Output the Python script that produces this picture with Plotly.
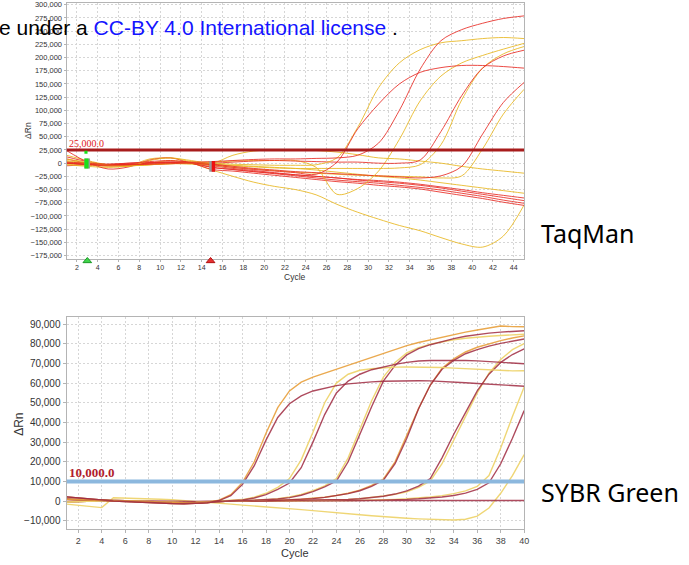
import plotly.graph_objects as go

W, H = 689, 565

# ---------------- TaqMan (top) data, values in thousands of dRn ----------------
TOP_CYCLES = list(range(1, 46, 2))
TOP_THRESHOLD = 25000
TOP_BASELINE_START = 3
TOP_BASELINE_END = 15

top_Ya = [5, 0, -4, -5, -3, -1, 0, 0, -2, -3, -4, -4, -3, 10, 68, 143, 190, 215, 228, 232, 236, 238, 236]
top_Ra = [0, -2, -4, -3, -2, -1, 0, -3, -8, -12, -15, -18, -21, 2, 65, 112, 150, 172, 181, 185, 185, 183, 180]
top_Rb = [2, 0, -2, 0, 3, 5, 2, 3, 5, 7, 8, 8, 9, 10, 15, 38, 100, 178, 232, 253, 265, 274, 279]
top_Yb = [8, 2, -3, -6, 5, 10, 3, 2, 4, 5, 5, 5, -8, -59, -48, -15, 45, 118, 165, 190, 204, 216, 227]
top_Rc = [0, -3, -5, -4, -2, 0, 1, 0, 2, 4, 5, 4, 3, 2, 2, 0, 0, 6, 60, 128, 180, 203, 214]
top_Yc = [-2, -4, -6, -5, -3, -1, 0, -2, -5, -7, -9, -10, -10, -10, -10, -10, -9, -3, 35, 120, 180, 207, 221]
top_Rd = [0, -2, -3, -2, 0, 2, 0, -2, -6, -10, -13, -16, -18, -20, -22, -24, -26, -28, -24, -6, 55, 115, 153]
top_Yd = [3, 0, -3, -5, -3, -1, -2, -4, -8, -11, -14, -17, -19, -21, -23, -24, -25, -26, -28, -24, 27, 93, 140]
top_Ye = [15, 5, -3, -4, 0, 5, 0, -13, -25, -36, -44, -50, -60, -78, -93, -106, -118, -128, -141, -153, -159, -138, -79]
top_Yf = [-3, -6, -8, -5, 8, 10, 5, 0, 15, 23, 25, 25, 24, 21, 16, 10, 8, 4, 0, -6, -11, -15, -19]
top_Yg = [2, -2, -4, -3, -2, 0, 2, -2, -4, -6, -8, -10, -13, -17, -21, -25, -28, -32, -37, -42, -47, -52, -57]
top_Re = [24, 2, -11, -7, 6, 10, 0, -8, -12, -16, -19, -22, -25, -28, -31, -33, -36, -40, -45, -50, -56, -61, -66]
top_Rf = [8, 0, -4, -2, 0, 1, 0, -5, -10, -14, -18, -22, -25, -28, -32, -35, -38, -42, -47, -53, -59, -65, -71]
top_Rg = [-5, -3, -2, 0, 1, 2, 1, -8, -12, -16, -20, -24, -28, -32, -35, -38, -42, -46, -51, -57, -63, -70, -76]
top_Rh = [12, 3, -3, -2, 1, 2, 0, -12, -15, -19, -23, -27, -31, -35, -38, -42, -45, -49, -55, -61, -67, -74, -80]

TOP_SERIES = [
    ("Yg", top_Yg, "yellow"), ("Rf", top_Rf, "red"), ("Ye", top_Ye, "yellow"),
    ("Rg", top_Rg, "red"), ("Yd", top_Yd, "yellow"), ("Rh", top_Rh, "red"),
    ("Yf", top_Yf, "yellow"), ("Re", top_Re, "red"), ("Yc", top_Yc, "yellow"),
    ("Rd", top_Rd, "red"), ("Yb", top_Yb, "yellow"), ("Rc", top_Rc, "red"),
    ("Ya", top_Ya, "yellow"), ("Rb", top_Rb, "red"), ("Ra", top_Ra, "red"),
]
TOP_YTICKS = list(range(-175000, 300001, 25000))
TOP_XTICKS = list(range(2, 45, 2))

# ---------------- SYBR Green (bottom) data, values in thousands of dRn ----------------
BOT_CYCLES = list(range(1, 41))
BOT_THRESHOLD = 10000

base_a = [2.2, 1.6, 1.0, 0.5, 0.1, -0.2, -0.5, -0.8, -1.0, -1.2, -1.3, -1.2, -0.8]
base_b = [1.0, 0.8, 0.6, 0.4, 0.2, 0.0, -0.2, -0.4, -0.6, -0.8, -0.9, -0.8, -0.5]
base_c = [-0.5, -0.3, 0.0, 0.3, 0.4, 0.2, 0.0, -0.3, -0.5, -0.7, -0.8, -0.7, -0.4]

bot_M1 = base_a + [0.3, 2.8, 8.5, 18, 31, 42.5, 49.5, 53.5, 56, 57.5, 58.7, 59.6, 60.2, 60.6, 60.9, 61.1,
                   61.2, 61.2, 61.1, 60.9, 60.6, 60.2, 59.8, 59.4, 59.0, 58.7, 58.4]
bot_Y1 = base_b + [0.5, 3.3, 9.5, 20, 34.5, 47.5, 56, 60.5, 63, 65, 67, 69.2, 71.3, 73.3, 75.3, 77.3,
                   79, 80.6, 82, 83.3, 84.6, 85.9, 87, 88, 89, 88.7, 88.6]
bot_Y2 = base_c + [-0.1, 0.2, 0.8, 2, 4, 7, 11.5, 21, 35, 50, 60, 64.5, 66.5, 67.3, 67.8, 68.1,
                   68.2, 68.2, 68.1, 67.9, 67.6, 67.3, 67, 66.7, 66.4, 66.2, 66.3]
bot_M2 = base_b + [-0.2, 0.1, 0.6, 1.6, 3.3, 6, 9.2, 17, 30, 44, 55, 61, 64.5, 66.8, 68.3, 69.5,
                   70.5, 71.2, 71.5, 71.6, 71.6, 71.5, 71.3, 71, 70.6, 70.2, 69.8]
bot_M3 = base_b + [0, 0.1, 0.2, 0.4, 0.7, 1.1, 1.8, 3, 4.8, 7.2, 10.2, 20, 34, 48, 61, 69,
                   74.3, 77.5, 79.5, 81.2, 82.6, 83.8, 84.7, 85.4, 85.9, 86.3, 86.6]
bot_Y3 = base_c + [0, 0.1, 0.2, 0.4, 0.8, 1.3, 2.1, 3.4, 5.3, 7.8, 11.5, 22, 36.5, 51, 63, 70.5,
                   75.3, 78, 79.8, 81, 82, 82.8, 83.4, 83.8, 84.2, 84.5, 84.8]
bot_M4 = base_a + [0, 0, 0.1, 0.2, 0.3, 0.4, 0.6, 0.9, 1.3, 1.9, 2.7, 3.8, 5.3, 7.5, 10.6, 19,
                   32, 47, 59, 67, 71.5, 74.9, 77, 78.8, 80.2, 81.4, 82.4]
bot_Y4 = base_b + [0, 0.1, 0.1, 0.2, 0.3, 0.5, 0.7, 1.0, 1.4, 2.0, 2.9, 4.0, 5.6, 8, 11.2, 20,
                   33.5, 47, 59, 67.5, 72.3, 75.8, 78.2, 80, 81.6, 82.9, 84]
bot_M5 = base_c + [0, 0, 0, 0.1, 0.1, 0.2, 0.2, 0.3, 0.4, 0.5, 0.6, 0.8, 1.2, 1.7, 2.5, 3.6,
                   5.2, 7.6, 11.5, 22, 34, 45, 56, 64.5, 70.5, 74.5, 77.4]
bot_Y5 = base_a + [0, 0, 0.1, 0.1, 0.2, 0.2, 0.3, 0.3, 0.4, 0.5, 0.7, 0.9, 1.3, 1.8, 2.6, 3.5,
                   4.8, 7, 10.3, 19, 31, 43, 55, 65, 72, 77, 80]
bot_Y6 = base_b + [0, 0, 0, 0, 0, 0.1, 0.1, 0.1, 0.2, 0.2, 0.3, 0.3, 0.4, 0.5, 0.7, 0.9,
                   1.2, 1.6, 2.1, 2.8, 3.8, 5.2, 7.5, 13, 27, 43, 58]
bot_M6 = base_c + [0, 0, 0, 0, 0, 0, 0.1, 0.1, 0.1, 0.2, 0.2, 0.3, 0.3, 0.4, 0.5, 0.7,
                   0.9, 1.2, 1.6, 2.1, 2.9, 4.1, 6, 9.3, 19, 32, 46]
bot_NTC = [0.8, 0.6, 0.5, 0.4, 0.3, 0.2, 0.1, 0.0, -0.1, -0.2, -0.2, -0.1, 0.0, 0.1, 0.2, 0.2,
           0.3, 0.3, 0.3, 0.3, 0.3, 0.3, 0.3, 0.3, 0.3, 0.3, 0.3, 0.3, 0.3, 0.3, 0.3, 0.3,
           0.3, 0.3, 0.3, 0.3, 0.3, 0.3, 0.3, 0.3]
bot_YL = [-1.5, -2.1, -2.7, -3.3, 1.7, 1.6, 1.5, 1.3, 1.0, 0.7, 0.3, 0.0, -0.4, -0.9, -1.5, -2.0,
          -2.4, -2.9, -3.3, -3.8, -4.3, -4.8, -5.4, -5.9, -6.4, -6.9, -7.4, -7.9, -8.3, -8.7,
          -9.0, -9.3, -9.5, -9.6, -9.2, -7.6, -3.5, 4.0, 13.0, 23.6]

BOT_SERIES = [
    ("YL", bot_YL, "yellow"), ("NTC", bot_NTC, "maroon"),
    ("Y6", bot_Y6, "yellow"), ("M6", bot_M6, "maroon"),
    ("Y5", bot_Y5, "yellow"), ("M5", bot_M5, "maroon"),
    ("Y4", bot_Y4, "orange"), ("M4", bot_M4, "maroon"),
    ("Y3", bot_Y3, "yellow"), ("M3", bot_M3, "maroon"),
    ("Y2", bot_Y2, "yellow"), ("M2", bot_M2, "maroon"),
    ("Y1", bot_Y1, "orange"), ("M1", bot_M1, "maroon"),
]
BOT_YTICKS = list(range(-10000, 90001, 10000))
BOT_XTICKS = list(range(2, 41, 2))

UNIT = 1000

COLORS = {
    "red": "rgba(232,44,36,0.85)",
    "yellow_top": "rgba(232,182,30,0.85)",
    "maroon": "rgba(160,44,66,0.85)",
    "yellow": "rgba(238,212,110,0.95)",
    "orange": "rgba(232,160,60,0.9)",
}

# ---------------- layout geometry (pixels) ----------------
PL, PR = 67, 528
T_TOP, T_BOT = 0, 257.7
B_TOP, B_BOT = 316, 530

def px_x(p):
    return p / W

def px_y(p):
    return 1 - p / H

fig = go.Figure()

for name, vals, col in TOP_SERIES:
    c = COLORS["red"] if col == "red" else COLORS["yellow_top"]
    fig.add_trace(go.Scatter(
        x=TOP_CYCLES, y=[v * UNIT for v in vals], mode="lines", name=name,
        line=dict(color=c, width=1, shape="spline", smoothing=0.9),
        xaxis="x", yaxis="y", showlegend=False, hoverinfo="skip"))

for name, vals, col in BOT_SERIES:
    fig.add_trace(go.Scatter(
        x=BOT_CYCLES, y=[v * UNIT for v in vals], mode="lines", name=name,
        line=dict(color=COLORS[col], width=1.4),
        xaxis="x2", yaxis="y2", showlegend=False, hoverinfo="skip"))

grid = dict(showgrid=True, gridcolor="#d6d6d6", gridwidth=1, griddash="2px,2px",
            zeroline=False, showline=True, linecolor="#b4b4b4", linewidth=1, mirror=True,
            ticks="outside", tickcolor="#b4b4b4", ticklabeloverflow="allow")

fig.update_layout(
    width=W, height=H, margin=dict(l=0, r=0, t=0, b=0),
    paper_bgcolor="white", plot_bgcolor="white",
    xaxis=dict(domain=[px_x(PL), px_x(PR)], range=[1, 45], anchor="y",
               tickvals=TOP_XTICKS, ticklen=2,
               tickfont=dict(family="Liberation Sans", size=7, color="#333"), **grid),
    yaxis=dict(domain=[px_y(T_BOT), px_y(T_TOP)], range=[-181300, 303400], anchor="x",
               tickvals=TOP_YTICKS, tickformat=",d", ticklen=2,
               tickfont=dict(family="Liberation Sans", size=7.5, color="#333"), **grid),
    xaxis2=dict(domain=[px_x(PL), px_x(PR)], range=[1, 40], anchor="y2",
                tickvals=BOT_XTICKS, ticklen=3,
                tickfont=dict(family="Liberation Sans", size=9, color="#444"), **grid),
    yaxis2=dict(domain=[px_y(B_BOT), px_y(B_TOP)], range=[-14280, 93700], anchor="x2",
                tickvals=BOT_YTICKS, tickformat=",d", ticklen=3,
                tickfont=dict(family="Liberation Sans", size=10, color="#333"), **grid),
)

def tri(xc, color, edge):
    # small triangle under the top x axis, x in data units, y in paper units
    y0, y1 = px_y(261.5), px_y(256.3)
    return dict(type="path", xref="x", yref="paper",
                path=f"M {xc - 0.42},{y0} L {xc + 0.42},{y0} L {xc},{y1} Z",
                fillcolor=color, line=dict(color=edge, width=1), layer="above")

shapes = [
    # thresholds
    dict(type="line", xref="x", yref="y", x0=1, x1=45, y0=TOP_THRESHOLD, y1=TOP_THRESHOLD,
         line=dict(color="#a81c1c", width=3)),
    dict(type="line", xref="x2", yref="y2", x0=1, x1=40, y0=BOT_THRESHOLD, y1=BOT_THRESHOLD,
         line=dict(color="#8cb8de", width=4)),
    # baseline start marker (green)
    dict(type="rect", xref="x", yref="y", x0=TOP_BASELINE_START - 0.28, x1=TOP_BASELINE_START + 0.26,
         y0=-10200, y1=8700, fillcolor="#9a9a9a", line=dict(width=0)),
    dict(type="rect", xref="x", yref="y", x0=TOP_BASELINE_START - 0.28, x1=TOP_BASELINE_START + 0.12,
         y0=-10200, y1=8700, fillcolor="#19e019", line=dict(width=0)),
    dict(type="rect", xref="x", yref="y", x0=TOP_BASELINE_START - 0.28, x1=TOP_BASELINE_START + 0.02,
         y0=18000, y1=23500, fillcolor="#19e019", line=dict(width=0)),
    # baseline end marker (red)
    dict(type="rect", xref="x", yref="y", x0=TOP_BASELINE_END - 0.28, x1=TOP_BASELINE_END + 0.29,
         y0=-16400, y1=4300, fillcolor="#9a9a9a", line=dict(width=0)),
    dict(type="rect", xref="x", yref="y", x0=TOP_BASELINE_END - 0.04, x1=TOP_BASELINE_END + 0.29,
         y0=-16400, y1=4300, fillcolor="#ee1111", line=dict(width=0)),
    tri(TOP_BASELINE_START, "#3fd64a", "#1c9a28"),
    tri(TOP_BASELINE_END - 0.15, "#e83030", "#b01010"),
]
fig.update_layout(shapes=shapes)

def label(x, y, text, size, angle=0, family="Liberation Sans", color="#333"):
    return dict(xref="paper", yref="paper", x=px_x(x), y=px_y(y), xanchor="center", yanchor="middle",
                text=text, textangle=angle, showarrow=False,
                font=dict(family=family, size=size, color=color))

ann = []
ann.append(dict(xref="x", yref="y", x=1, y=TOP_THRESHOLD, xanchor="left", yanchor="bottom",
                text="25,000.0", showarrow=False, yshift=-1,
                font=dict(family="Liberation Serif", size=10, color="#e01818")))
ann.append(dict(xref="x2", yref="y2", x=1, y=BOT_THRESHOLD, xanchor="left", yanchor="bottom",
                text="<b>10,000.0</b>", showarrow=False, yshift=-1,
                font=dict(family="Liberation Serif", size=13, color="#b01c2c")))
# axis titles
ann.append(label(28, 128, "ΔRn", 8.5, angle=-90))
ann.append(label(297, 276, "Cycle", 8.5))
ann.append(label(19, 424, "ΔRn", 12, angle=-90))
ann.append(label(297, 554, "Cycle", 11))
# overlay texts
ann.append(dict(xref="paper", yref="paper", x=px_x(-3), y=px_y(24.5), xanchor="left", yanchor="middle",
                text="e under a <span style='color:#1414ff'>CC-BY 4.0 International license</span> .",
                showarrow=False, font=dict(family="Liberation Sans", size=21, color="#000")))
ann.append(dict(xref="paper", yref="paper", x=px_x(543), y=px_y(232), xanchor="left", yanchor="middle",
                text="TaqMan", showarrow=False,
                font=dict(family="Noto Sans", size=25, color="#000")))
ann.append(dict(xref="paper", yref="paper", x=px_x(543), y=px_y(492), xanchor="left", yanchor="middle",
                text="SYBR Green", showarrow=False,
                font=dict(family="Noto Sans", size=25, color="#000")))
fig.update_layout(annotations=ann)

fig.write_html("out.html")
